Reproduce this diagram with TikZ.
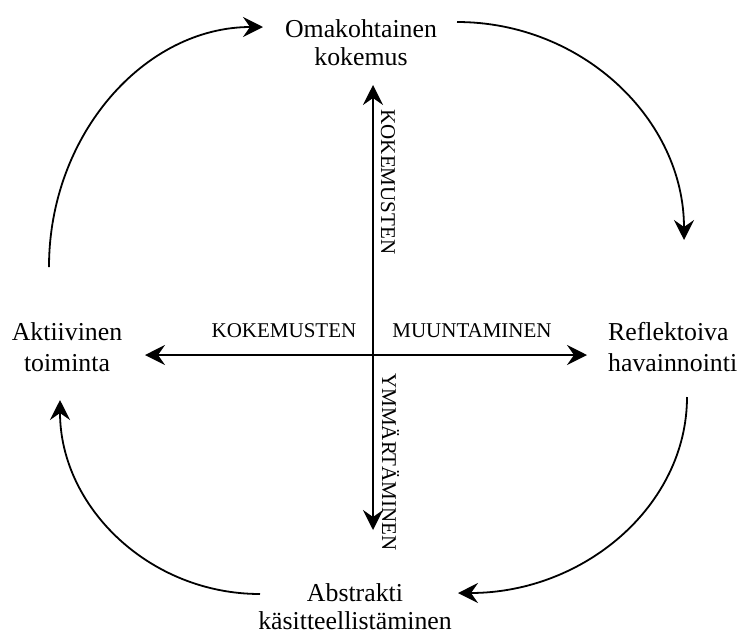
\documentclass[tikz,border=0pt]{standalone}
\usepackage{fontspec}
\setmainfont{Liberation Serif}
\usetikzlibrary{arrows.meta}
\newcommand\twoc[2]{\vtop{\halign{\hfil##\hfil\cr #1\cr #2\cr}}}
\newcommand\twol[2]{\vtop{\halign{##\hfil\cr #1\cr #2\cr}}}
\begin{document}
\begin{tikzpicture}[x=1pt,y=-1pt,
  tb/.style={font=\fontsize{25.8}{28.5}\selectfont, inner sep=0pt, anchor=base},
  lr/.style={font=\fontsize{25.8}{31}\selectfont, inner sep=0pt, anchor=base},
  axlab/.style={font=\fontsize{21}{25}\selectfont, inner sep=0pt, anchor=base},
  conn/.style={line width=1.8pt, -{Stealth[length=20pt,width=20pt,inset=7pt]}},
  axis/.style={line width=1.8pt, {Stealth[length=20pt,width=20pt,inset=7pt]}-{Stealth[length=20pt,width=20pt,inset=7pt]}}]
\useasboundingbox (0,0) rectangle (741,635);

% main labels
\node[tb] (top) at (361,37) {\twoc{Omakohtainen}{kokemus}};
\node[tb] (bot) at (355,601) {\twoc{Abstrakti}{käsitteellistäminen}};
\node[lr] (left) at (67,340) {\twoc{Aktiivinen}{toiminta}};
\node[lr, anchor=base west] (right) at (608,340) {\twol{Reflektoiva}{havainnointi}};

% axis labels
\node[axlab] (kh) at (284,337) {KOKEMUSTEN};
\node[axlab] (mh) at (472,337) {MUUNTAMINEN};
\node[axlab, rotate=-90] (kv) at (381,182) {KOKEMUSTEN};
\node[axlab, rotate=-90] (yv) at (382,462) {YMMÄRTÄMINEN};

% axes
\coordinate (vt) at (373,85);
\coordinate (vb) at (373,530);
\coordinate (hl) at (145,355);
\coordinate (hr) at (587,355);
\draw[axis] (vb) -- (vt);
\draw[axis] (hl) -- (hr);

% cycle arrows
\coordinate (tl1) at (49,267);  \coordinate (tl2) at (263,27);
\coordinate (tr1) at (457,22);  \coordinate (tr2) at (684,240);
\coordinate (br1) at (687,397); \coordinate (br2) at (458,593);
\coordinate (bl1) at (260,594); \coordinate (bl2) at (60,400);

\draw[conn] (tl1) .. controls (49,134.5) and (144.8,27) .. (tl2);
\draw[conn] (tr1) .. controls (582.4,22) and (684,119.6) .. (tr2);
\draw[conn] (br1) .. controls (687,505.3) and (584.5,593) .. (br2);
\draw[conn] (bl1) .. controls (149.5,594) and (60,507.1) .. (bl2);
\end{tikzpicture}
\end{document}
